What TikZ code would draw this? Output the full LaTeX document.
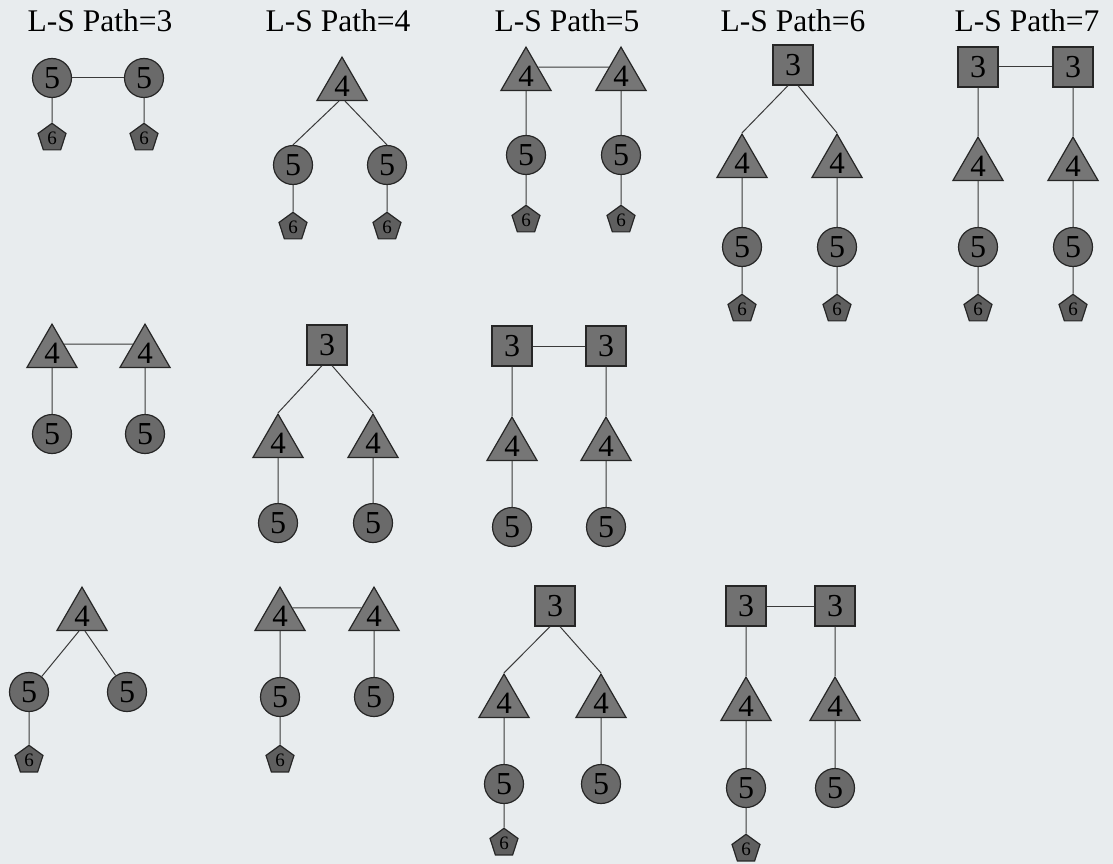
\documentclass[tikz,border=0pt]{standalone}
\usepackage{fontspec}
\setmainfont{Liberation Serif}
\usetikzlibrary{shapes.geometric}
\definecolor{paper}{HTML}{E8ECEE}
\definecolor{shade}{HTML}{6A6A6A}
\definecolor{rim}{HTML}{262626}
\definecolor{wire}{HTML}{3A3A3A}

\begin{document}
\begin{tikzpicture}[x=1pt, y=-1pt,
  lbl/.style={anchor=base, font=\fontsize{31.5}{36}\selectfont},
  circ/.style={circle, draw=rim, fill=shade, line width=1.2pt, minimum size=39pt,
               inner sep=0pt, font=\fontsize{32}{32}\selectfont},
  tri/.style={regular polygon, regular polygon sides=3, draw=rim, fill=shade!92!white,
              line width=1.2pt, minimum size=57.8pt, inner sep=0pt, font=\fontsize{31}{31}\selectfont},
  sq/.style={rectangle, draw=rim, fill=shade!95!white, line width=1.2pt, minimum size=40pt,
             inner sep=0pt, font=\fontsize{32}{32}\selectfont},
  pent/.style={regular polygon, regular polygon sides=5, draw=rim, fill=shade!90!black,
               line width=1.2pt, minimum size=29.4pt, inner sep=0pt, font=\fontsize{19}{19}\selectfont},
  link/.style={draw=wire, line width=1pt},
]
  \fill[paper] (0,0) rectangle (1113,864);
  \useasboundingbox (0,0) rectangle (1113,864);

  % column titles
  \node[lbl] (head3) at (100,32) {L-S Path=3};
  \node[lbl] (head4) at (338,32) {L-S Path=4};
  \node[lbl] (head5) at (567,32) {L-S Path=5};
  \node[lbl] (head6) at (793,32) {L-S Path=6};
  \node[lbl] (head7) at (1027,32) {L-S Path=7};

  % first row
  \node[circ] (a-c1) at (52,78) {5};
  \node[circ] (a-c2) at (144,78) {5};
  \node[pent] (a-p1) at (52,138) {6};
  \node[pent] (a-p2) at (144,138) {6};
  \draw[link] (a-c1) -- (a-c2);
  \draw[link] (a-c1) -- (a-p1);
  \draw[link] (a-c2) -- (a-p2);

  \node[tri] (b-t) at (342,86) {4};
  \node[circ] (b-c1) at (293,165) {5};
  \node[circ] (b-c2) at (387,165) {5};
  \node[pent] (b-p1) at (293,227) {6};
  \node[pent] (b-p2) at (387,227) {6};
  \draw[link] ([xshift=-3pt]b-t.south) -- (b-c1.north);
  \draw[link] ([xshift=3pt]b-t.south) -- (b-c2.north);
  \draw[link] (b-c1) -- (b-p1);
  \draw[link] (b-c2) -- (b-p2);

  \node[tri] (c-t1) at (526,76) {4};
  \node[tri] (c-t2) at (621,76) {4};
  \node[circ] (c-c1) at (526,155) {5};
  \node[circ] (c-c2) at (621,155) {5};
  \node[pent] (c-p1) at (526,220) {6};
  \node[pent] (c-p2) at (621,220) {6};
  \draw[link] (c-t1.36) -- (c-t2.144);
  \draw[link] (c-t1) -- (c-c1);
  \draw[link] (c-t2) -- (c-c2);
  \draw[link] (c-c1) -- (c-p1);
  \draw[link] (c-c2) -- (c-p2);

  \node[sq] (d-s) at (793,65) {3};
  \node[tri] (d-t1) at (742,163) {4};
  \node[tri] (d-t2) at (837,163) {4};
  \node[circ] (d-c1) at (742,247) {5};
  \node[circ] (d-c2) at (837,247) {5};
  \node[pent] (d-p1) at (742,309) {6};
  \node[pent] (d-p2) at (837,309) {6};
  \draw[link] ([xshift=-5pt]d-s.south) -- (d-t1.corner 1);
  \draw[link] ([xshift=5pt]d-s.south) -- (d-t2.corner 1);
  \draw[link] (d-t1) -- (d-c1);
  \draw[link] (d-t2) -- (d-c2);
  \draw[link] (d-c1) -- (d-p1);
  \draw[link] (d-c2) -- (d-p2);

  \node[sq] (e-s1) at (978,67) {3};
  \node[sq] (e-s2) at (1073,67) {3};
  \node[tri] (e-t1) at (978,166) {4};
  \node[tri] (e-t2) at (1073,166) {4};
  \node[circ] (e-c1) at (978,247) {5};
  \node[circ] (e-c2) at (1073,247) {5};
  \node[pent] (e-p1) at (978,309) {6};
  \node[pent] (e-p2) at (1073,309) {6};
  \draw[link] (e-s1) -- (e-s2);
  \draw[link] (e-s1) -- (e-t1);
  \draw[link] (e-s2) -- (e-t2);
  \draw[link] (e-t1) -- (e-c1);
  \draw[link] (e-t2) -- (e-c2);
  \draw[link] (e-c1) -- (e-p1);
  \draw[link] (e-c2) -- (e-p2);

  % second row
  \node[tri] (f-t1) at (52,353) {4};
  \node[tri] (f-t2) at (145,353) {4};
  \node[circ] (f-c1) at (52,434) {5};
  \node[circ] (f-c2) at (145,434) {5};
  \draw[link] (f-t1.36) -- (f-t2.144);
  \draw[link] (f-t1) -- (f-c1);
  \draw[link] (f-t2) -- (f-c2);

  \node[sq] (g-s) at (327,345) {3};
  \node[tri] (g-t1) at (278,443) {4};
  \node[tri] (g-t2) at (373,443) {4};
  \node[circ] (g-c1) at (278,523) {5};
  \node[circ] (g-c2) at (373,523) {5};
  \draw[link] ([xshift=-5pt]g-s.south) -- (g-t1.corner 1);
  \draw[link] ([xshift=5pt]g-s.south) -- (g-t2.corner 1);
  \draw[link] (g-t1) -- (g-c1);
  \draw[link] (g-t2) -- (g-c2);

  \node[sq] (h-s1) at (512,346) {3};
  \node[sq] (h-s2) at (606,346) {3};
  \node[tri] (h-t1) at (512,446) {4};
  \node[tri] (h-t2) at (606,446) {4};
  \node[circ] (h-c1) at (512,527) {5};
  \node[circ] (h-c2) at (606,527) {5};
  \draw[link] (h-s1) -- (h-s2);
  \draw[link] (h-s1) -- (h-t1);
  \draw[link] (h-s2) -- (h-t2);
  \draw[link] (h-t1) -- (h-c1);
  \draw[link] (h-t2) -- (h-c2);

  % third row
  \node[tri] (i-t) at (82,616) {4};
  \node[circ] (i-c1) at (29,692) {5};
  \node[circ] (i-c2) at (127,692) {5};
  \node[pent] (i-p) at (29,760) {6};
  \draw[link] ([xshift=-3pt]i-t.south) -- (i-c1);
  \draw[link] ([xshift=3pt]i-t.south) -- (i-c2);
  \draw[link] (i-c1) -- (i-p);

  \node[tri] (j-t1) at (280,616) {4};
  \node[tri] (j-t2) at (374,616) {4};
  \node[circ] (j-c1) at (280,697) {5};
  \node[circ] (j-c2) at (374,697) {5};
  \node[pent] (j-p) at (280,760) {6};
  \draw[link] (j-t1.33) -- (j-t2.147);
  \draw[link] (j-t1) -- (j-c1);
  \draw[link] (j-t2) -- (j-c2);
  \draw[link] (j-c1) -- (j-p);

  \node[sq] (k-s) at (555,606) {3};
  \node[tri] (k-t1) at (504,703) {4};
  \node[tri] (k-t2) at (601,703) {4};
  \node[circ] (k-c1) at (504,784) {5};
  \node[circ] (k-c2) at (601,784) {5};
  \node[pent] (k-p) at (504,843) {6};
  \draw[link] ([xshift=-5pt]k-s.south) -- (k-t1.corner 1);
  \draw[link] ([xshift=5pt]k-s.south) -- (k-t2.corner 1);
  \draw[link] (k-t1) -- (k-c1);
  \draw[link] (k-t2) -- (k-c2);
  \draw[link] (k-c1) -- (k-p);

  \node[sq] (l-s1) at (746,606) {3};
  \node[sq] (l-s2) at (835,606) {3};
  \node[tri] (l-t1) at (746,706) {4};
  \node[tri] (l-t2) at (835,706) {4};
  \node[circ] (l-c1) at (746,788) {5};
  \node[circ] (l-c2) at (835,788) {5};
  \node[pent] (l-p) at (746,849) {6};
  \draw[link] (l-s1) -- (l-s2);
  \draw[link] (l-s1) -- (l-t1);
  \draw[link] (l-s2) -- (l-t2);
  \draw[link] (l-t1) -- (l-c1);
  \draw[link] (l-t2) -- (l-c2);
  \draw[link] (l-c1) -- (l-p);
\end{tikzpicture}
\end{document}
